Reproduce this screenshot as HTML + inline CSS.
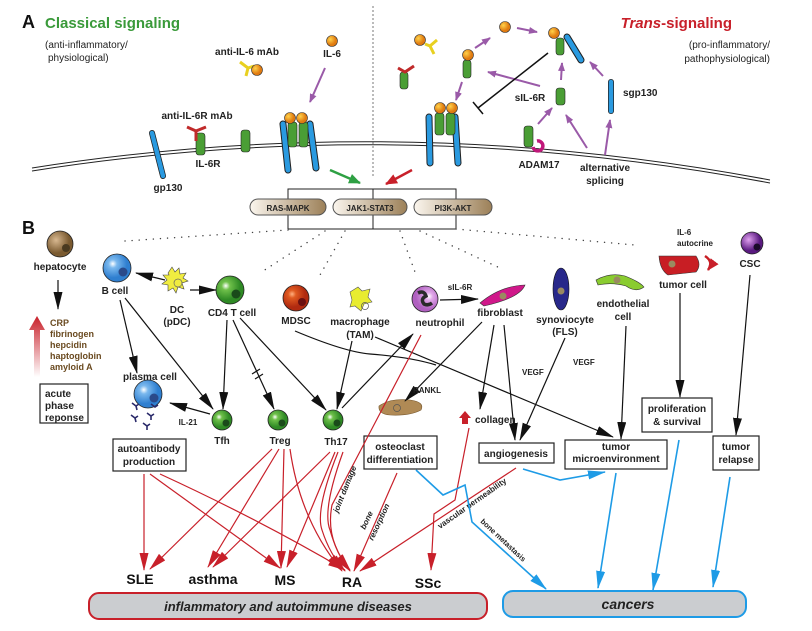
<!DOCTYPE html>
<html><head><meta charset="utf-8"><style>
html,body{margin:0;padding:0;background:#fff;}
svg{display:block;font-family:"Liberation Sans",sans-serif;}
.b{font-weight:bold;font-size:10px;fill:#222;}
.s{font-size:8px;font-weight:bold;fill:#222;}
</style></head><body>
<svg width="812" height="631" viewBox="0 0 812 631" xmlns="http://www.w3.org/2000/svg">
<defs>
<marker id="ak" markerWidth="18" markerHeight="9" refX="17" refY="4.5" orient="auto" markerUnits="userSpaceOnUse"><path d="M0,0 L18,4.5 L0,9 Z" fill="#111"/></marker>
<marker id="ar" markerWidth="18" markerHeight="9" refX="17" refY="4.5" orient="auto" markerUnits="userSpaceOnUse"><path d="M0,0 L18,4.5 L0,9 Z" fill="#c8202a"/></marker>
<marker id="ab" markerWidth="18" markerHeight="9" refX="17" refY="4.5" orient="auto" markerUnits="userSpaceOnUse"><path d="M0,0 L18,4.5 L0,9 Z" fill="#1e9be6"/></marker>
<marker id="ap" markerWidth="9" markerHeight="7" refX="8" refY="3.5" orient="auto" markerUnits="userSpaceOnUse"><path d="M0,0 L9,3.5 L0,7 Z" fill="#9a5aa8"/></marker>
<marker id="ag" markerWidth="12" markerHeight="10" refX="11" refY="5" orient="auto" markerUnits="userSpaceOnUse"><path d="M0,0 L12,5 L0,10 Z" fill="#2ea043"/></marker>
<marker id="ar2" markerWidth="12" markerHeight="10" refX="11" refY="5" orient="auto" markerUnits="userSpaceOnUse"><path d="M0,0 L12,5 L0,10 Z" fill="#c8202a"/></marker>
<radialGradient id="gO" cx="35%" cy="35%"><stop offset="0" stop-color="#ffd24a"/><stop offset="1" stop-color="#e07a10"/></radialGradient>
<radialGradient id="gB" cx="35%" cy="35%"><stop offset="0" stop-color="#fff"/><stop offset=".3" stop-color="#7ab8ee"/><stop offset="1" stop-color="#2f7fd0"/></radialGradient>
<radialGradient id="gG" cx="35%" cy="35%"><stop offset="0" stop-color="#fff"/><stop offset=".3" stop-color="#6fc04a"/><stop offset="1" stop-color="#2f8a25"/></radialGradient>
<radialGradient id="gBr" cx="35%" cy="35%"><stop offset="0" stop-color="#d8b890"/><stop offset="1" stop-color="#7a5a30"/></radialGradient>
<radialGradient id="gR" cx="35%" cy="35%"><stop offset="0" stop-color="#ffb080"/><stop offset=".3" stop-color="#e05a20"/><stop offset="1" stop-color="#b02a10"/></radialGradient>
<radialGradient id="gP" cx="35%" cy="35%"><stop offset="0" stop-color="#e0a0f0"/><stop offset="1" stop-color="#5a1a80"/></radialGradient>
<radialGradient id="gN" cx="65%" cy="40%"><stop offset="0" stop-color="#fff"/><stop offset=".3" stop-color="#e0a8e8"/><stop offset="1" stop-color="#b060c0"/></radialGradient>
<linearGradient id="gUp" x1="0" y1="1" x2="0" y2="0"><stop offset="0" stop-color="#fff"/><stop offset="1" stop-color="#c8202a"/></linearGradient>
<linearGradient id="gPill" x1="0" y1="0" x2="1" y2="0"><stop offset="0" stop-color="#fbf6ee"/><stop offset="1" stop-color="#9c8058"/></linearGradient>
</defs>

<!-- Section A -->
<text x="22" y="28" font-size="18" font-weight="bold" fill="#111">A</text>
<text x="45" y="28" font-size="15" font-weight="bold" fill="#3a9a3a">Classical signaling</text>
<text x="45" y="48" font-size="10" fill="#222">(anti-inflammatory/</text>
<text x="48" y="61" font-size="10" fill="#222">physiological)</text>
<text x="732" y="28" font-size="15" font-weight="bold" fill="#c8202a" text-anchor="end"><tspan font-style="italic">Trans</tspan>-signaling</text>
<text x="770" y="48" font-size="10" fill="#222" text-anchor="end">(pro-inflammatory/</text>
<text x="770" y="62" font-size="10" fill="#222" text-anchor="end">pathophysiological)</text>
<line x1="373" y1="6" x2="373" y2="178" stroke="#777" stroke-dasharray="2,2"/>

<path d="M32,168 Q400,110 770,180" fill="none" stroke="#222" stroke-width="1"/>
<path d="M32,171 Q400,113 770,183" fill="none" stroke="#222" stroke-width="1"/>

<line x1="152" y1="133" x2="163" y2="176" stroke="#222" stroke-width="6" stroke-linecap="round"/>
<line x1="152" y1="133" x2="163" y2="176" stroke="#2a9ae0" stroke-width="4.5" stroke-linecap="round"/>
<text x="168" y="191" class="b" text-anchor="middle">gp130</text>
<rect x="196" y="133" width="9" height="22" rx="3" fill="#4a9e35" stroke="#222" stroke-width=".6"/>
<path d="M187,127 L196,131 L206,127 M196,131 L196,141" stroke="#c02a2a" stroke-width="3" fill="none"/>
<text x="197" y="119" class="b" text-anchor="middle">anti-IL-6R mAb</text>
<text x="208" y="167" class="b" text-anchor="middle">IL-6R</text>
<rect x="241" y="130" width="9" height="22" rx="3" fill="#4a9e35" stroke="#222" stroke-width=".6"/>
<text x="247" y="55" class="b" text-anchor="middle">anti-IL-6 mAb</text>
<path d="M240,62 L248,68 L246,76 M248,68 L254,66" stroke="#e8d020" stroke-width="3" fill="none"/>
<circle cx="257" cy="70" r="5.5" fill="url(#gO)" stroke="#333" stroke-width=".6"/>
<circle cx="332" cy="41" r="5.5" fill="url(#gO)" stroke="#333" stroke-width=".6"/>
<text x="332" y="57" class="b" text-anchor="middle">IL-6</text>
<line x1="325" y1="68" x2="310" y2="102" stroke="#9a5aa8" stroke-width="2" marker-end="url(#ap)"/>
<line x1="283" y1="124" x2="288" y2="170" stroke="#222" stroke-width="7" stroke-linecap="round"/>
<line x1="283" y1="124" x2="288" y2="170" stroke="#2a9ae0" stroke-width="5" stroke-linecap="round"/>
<line x1="310" y1="124" x2="316" y2="168" stroke="#222" stroke-width="7" stroke-linecap="round"/>
<line x1="310" y1="124" x2="316" y2="168" stroke="#2a9ae0" stroke-width="5" stroke-linecap="round"/>
<rect x="288" y="122" width="9" height="25" rx="3" fill="#4a9e35" stroke="#222" stroke-width=".6"/>
<rect x="299" y="122" width="9" height="25" rx="3" fill="#4a9e35" stroke="#222" stroke-width=".6"/>
<circle cx="290" cy="118" r="5.5" fill="url(#gO)" stroke="#333" stroke-width=".6"/>
<circle cx="302" cy="118" r="5.5" fill="url(#gO)" stroke="#333" stroke-width=".6"/>
<line x1="429" y1="117" x2="430" y2="163" stroke="#222" stroke-width="7" stroke-linecap="round"/>
<line x1="429" y1="117" x2="430" y2="163" stroke="#2a9ae0" stroke-width="5" stroke-linecap="round"/>
<line x1="455" y1="117" x2="458" y2="163" stroke="#222" stroke-width="7" stroke-linecap="round"/>
<line x1="455" y1="117" x2="458" y2="163" stroke="#2a9ae0" stroke-width="5" stroke-linecap="round"/>
<rect x="435" y="113" width="9" height="22" rx="3" fill="#4a9e35" stroke="#222" stroke-width=".6"/>
<rect x="446" y="113" width="9" height="22" rx="3" fill="#4a9e35" stroke="#222" stroke-width=".6"/>
<circle cx="440" cy="108" r="5.5" fill="url(#gO)" stroke="#333" stroke-width=".6"/>
<circle cx="452" cy="108" r="5.5" fill="url(#gO)" stroke="#333" stroke-width=".6"/>
<circle cx="420" cy="40" r="5.5" fill="url(#gO)" stroke="#333" stroke-width=".6"/>
<path d="M437,40 L430,46 L434,54 M430,46 L425,44" stroke="#e8d020" stroke-width="3" fill="none"/>
<rect x="400" y="72" width="8" height="17" rx="3" fill="#4a9e35" stroke="#222" stroke-width=".6"/>
<path d="M398,68 L405,72 L414,66" stroke="#c02a2a" stroke-width="3" fill="none"/>
<circle cx="505" cy="27" r="5.5" fill="url(#gO)" stroke="#333" stroke-width=".6"/>
<rect x="463" y="60" width="8" height="18" rx="3" fill="#4a9e35" stroke="#222" stroke-width=".6"/>
<circle cx="468" cy="55" r="5.5" fill="url(#gO)" stroke="#333" stroke-width=".6"/>
<line x1="567" y1="37" x2="581" y2="60" stroke="#222" stroke-width="7" stroke-linecap="round"/>
<line x1="567" y1="37" x2="581" y2="60" stroke="#2a9ae0" stroke-width="5" stroke-linecap="round"/>
<rect x="556" y="38" width="8" height="17" rx="3" fill="#4a9e35" stroke="#222" stroke-width=".6"/>
<circle cx="554" cy="33" r="5.5" fill="url(#gO)" stroke="#333" stroke-width=".6"/>
<rect x="556" y="88" width="9" height="17" rx="3" fill="#4a9e35" stroke="#222" stroke-width=".6"/>
<text x="530" y="101" class="b" font-size="9" text-anchor="middle">sIL-6R</text>
<line x1="611" y1="82" x2="611" y2="111" stroke="#222" stroke-width="6" stroke-linecap="round"/>
<line x1="611" y1="82" x2="611" y2="111" stroke="#2a9ae0" stroke-width="4.5" stroke-linecap="round"/>
<text x="623" y="96" class="b" font-size="9">sgp130</text>
<rect x="524" y="126" width="9" height="21" rx="3" fill="#4a9e35" stroke="#222" stroke-width=".6"/>
<path d="M537,141 a5,5 0 1 1 -4,6" stroke="#c0187a" stroke-width="3.5" fill="none"/>
<text x="539" y="168" class="b" font-size="9" text-anchor="middle">ADAM17</text>
<text x="605" y="171" class="b" text-anchor="middle">alternative</text>
<text x="605" y="184" class="b" text-anchor="middle">splicing</text>
<g stroke="#9a5aa8" stroke-width="2" fill="none">
<line x1="475" y1="48" x2="490" y2="38" marker-end="url(#ap)"/>
<line x1="517" y1="28" x2="537" y2="32" marker-end="url(#ap)"/>
<line x1="462" y1="82" x2="456" y2="100" marker-end="url(#ap)"/>
<line x1="540" y1="86" x2="488" y2="72" marker-end="url(#ap)"/>
<line x1="561" y1="80" x2="562" y2="63" marker-end="url(#ap)"/>
<line x1="538" y1="124" x2="552" y2="108" marker-end="url(#ap)"/>
<line x1="587" y1="148" x2="566" y2="115" marker-end="url(#ap)"/>
<line x1="605" y1="155" x2="610" y2="120" marker-end="url(#ap)"/>
<line x1="603" y1="76" x2="590" y2="62" marker-end="url(#ap)"/>
</g>
<line x1="548" y1="53" x2="478" y2="108" stroke="#111" stroke-width="1.5"/>
<line x1="473" y1="102" x2="483" y2="114" stroke="#111" stroke-width="1.5"/>
<line x1="330" y1="170" x2="360" y2="183" stroke="#2ea043" stroke-width="2.5" marker-end="url(#ag)"/>
<line x1="412" y1="170" x2="386" y2="184" stroke="#c8202a" stroke-width="2.5" marker-end="url(#ar2)"/>

<path d="M288,229 L288,189 L456,189 L456,229 M373,189 L373,229 M288,229 L456,229" stroke="#222" fill="none" stroke-width="1"/>
<g stroke="#555" stroke-width="1">
<rect x="250" y="199" width="76" height="16" rx="8" fill="url(#gPill)"/>
<rect x="333" y="199" width="74" height="16" rx="8" fill="url(#gPill)"/>
<rect x="414" y="199" width="78" height="16" rx="8" fill="url(#gPill)"/>
</g>
<text x="288" y="211" class="s" text-anchor="middle">RAS-MAPK</text>
<text x="370" y="211" class="s" text-anchor="middle">JAK1-STAT3</text>
<text x="453" y="211" class="s" text-anchor="middle">PI3K-AKT</text>

<!-- Section B -->
<text x="22" y="234" font-size="18" font-weight="bold" fill="#111">B</text>
<g stroke="#444" stroke-width="1.4" stroke-dasharray="0.1,7" stroke-linecap="round" fill="none">
<line x1="288" y1="230" x2="125" y2="241"/>
<line x1="325" y1="231" x2="260" y2="273"/>
<line x1="345" y1="231" x2="320" y2="275"/>
<line x1="400" y1="231" x2="415" y2="272"/>
<line x1="420" y1="231" x2="500" y2="268"/>
<line x1="456" y1="229" x2="635" y2="245"/>
</g>

<circle cx="60" cy="244" r="13" fill="url(#gBr)" stroke="#222" stroke-width=".8"/><circle cx="66" cy="248" r="4" fill="#4a3a20"/>
<text x="60" y="270" class="b" text-anchor="middle">hepatocyte</text>
<line x1="58" y1="280" x2="58" y2="309" stroke="#111" stroke-width="1.2" marker-end="url(#ak)"/>
<path d="M34,377 L34,330 L29,330 L37,316 L45,330 L40,330 L40,377 Z" fill="url(#gUp)"/>
<g font-size="9" font-weight="bold" fill="#6a4a20">
<text x="50" y="326">CRP</text><text x="50" y="337">fibrinogen</text><text x="50" y="348">hepcidin</text><text x="50" y="359">haptoglobin</text><text x="50" y="370">amyloid A</text></g>
<rect x="40" y="384" width="48" height="39" fill="#fff" stroke="#222" stroke-width="1.2"/>
<text x="45" y="397" class="b">acute</text><text x="45" y="409" class="b">phase</text><text x="45" y="421" class="b">reponse</text>

<circle cx="117" cy="268" r="14" fill="url(#gB)" stroke="#222" stroke-width=".8"/><circle cx="123" cy="272" r="4.5" fill="#2a4a8a"/>
<text x="115" y="294" class="b" text-anchor="middle">B cell</text>
<path d="M168,273 l4,-6 l3,5 l4,-4 l1,6 l6,-1 l-3,5 l5,3 l-6,2 l2,6 l-6,-2 l-2,6 l-3,-5 l-5,3 l0,-6 l-6,-1 l5,-4 l-4,-5 l6,0 Z" fill="#f0ec40" stroke="#444" stroke-width=".6"/>
<circle cx="178" cy="283" r="4" fill="none" stroke="#666" stroke-width=".7"/>
<text x="177" y="313" class="b" text-anchor="middle">DC</text><text x="177" y="325" class="b" text-anchor="middle">(pDC)</text>
<circle cx="230" cy="290" r="14" fill="url(#gG)" stroke="#222" stroke-width=".8"/><circle cx="236" cy="294" r="4.5" fill="#1a4a1a"/>
<text x="232" y="316" class="b" text-anchor="middle">CD4 T cell</text>
<circle cx="296" cy="298" r="13" fill="url(#gR)" stroke="#222" stroke-width=".8"/><circle cx="302" cy="302" r="4" fill="#6a1010"/>
<text x="296" y="324" class="b" text-anchor="middle">MDSC</text>
<path d="M350,292 l8,-5 l4,4 l8,-2 l-2,8 l4,5 l-8,2 l-3,7 l-6,-5 l-5,1 l2,-7 Z" fill="#e8ec30" stroke="#555" stroke-width=".6"/>
<circle cx="365" cy="306" r="3.5" fill="none" stroke="#555" stroke-width=".7"/>
<text x="360" y="325" class="b" text-anchor="middle">macrophage</text><text x="360" y="338" class="b" text-anchor="middle">(TAM)</text>
<circle cx="425" cy="299" r="13" fill="url(#gN)" stroke="#222" stroke-width=".8"/>
<path d="M418,293 q6,-3 8,3 q-6,3 -2,8 q4,2 8,-1" stroke="#2a2a2a" stroke-width="3.5" fill="none"/>
<text x="440" y="326" class="b" text-anchor="middle">neutrophil</text>
<text x="460" y="290" class="s" font-size="8.5" text-anchor="middle">sIL-6R</text>
<line x1="440" y1="300" x2="478" y2="299" stroke="#111" stroke-width="1.2" marker-end="url(#ak)"/>
<path d="M480,303 Q500,286 525,285 Q520,298 484,306 Z" fill="#d0188a" stroke="#333" stroke-width=".6"/>
<circle cx="503" cy="296" r="3.5" fill="#9a8a60"/>
<text x="500" y="316" class="b" text-anchor="middle">fibroblast</text>
<ellipse cx="561" cy="289" rx="8" ry="21" fill="#28288a" stroke="#111" stroke-width=".6"/><circle cx="561" cy="291" r="3.5" fill="#9a8a60"/>
<text x="565" y="323" class="b" text-anchor="middle">synoviocyte</text><text x="565" y="335" class="b" text-anchor="middle">(FLS)</text>
<path d="M596,280 Q610,272 625,276 Q640,282 644,287 Q636,293 626,286 Q612,282 598,285 Z" fill="#8acc30" stroke="#333" stroke-width=".6"/>
<circle cx="617" cy="280" r="3.5" fill="#9a8a60"/>
<text x="623" y="307" class="b" text-anchor="middle">endothelial</text><text x="623" y="320" class="b" text-anchor="middle">cell</text>
<path d="M659,256 L696,256 Q702,265 696,272 L668,275 Q660,270 659,256 Z" fill="#c81e24" stroke="#333" stroke-width=".6"/>
<circle cx="672" cy="264" r="3.5" fill="#9a8a60"/>
<path d="M705,256 Q714,262 708,270" stroke="#c81e24" stroke-width="2.5" fill="none" marker-end="url(#ar2)"/>
<text x="677" y="235" class="s" font-size="8.5">IL-6</text><text x="677" y="246" class="s" font-size="8.5">autocrine</text>
<text x="683" y="288" class="b" text-anchor="middle">tumor cell</text>
<circle cx="752" cy="243" r="11" fill="url(#gP)" stroke="#222" stroke-width=".8"/><circle cx="757" cy="247" r="3.5" fill="#1a0a2a"/>
<text x="750" y="267" class="b" text-anchor="middle">CSC</text>

<text x="150" y="380" class="b" text-anchor="middle">plasma cell</text>
<circle cx="148" cy="394" r="14" fill="url(#gB)" stroke="#222" stroke-width=".8"/><circle cx="154" cy="398" r="4.5" fill="#2a4a8a"/>
<g stroke="#2a2a6a" stroke-width="1.6" fill="none">
<path d="M132,403 l4,3 l3,-2 M136,406 l1,4"/><path d="M147,413 l4,3 l3,-2 M151,416 l0,4"/><path d="M131,415 l4,3 l3,-2 M135,418 l1,4"/><path d="M143,423 l4,3 l3,-2 M147,426 l0,4"/><path d="M151,404 l4,3 l3,-2"/></g>
<circle cx="222" cy="420" r="10" fill="url(#gG)" stroke="#222" stroke-width=".8"/><circle cx="226" cy="423" r="3.5" fill="#1a4a1a"/>
<circle cx="278" cy="420" r="10" fill="url(#gG)" stroke="#222" stroke-width=".8"/><circle cx="282" cy="423" r="3.5" fill="#1a4a1a"/>
<circle cx="333" cy="420" r="10" fill="url(#gG)" stroke="#222" stroke-width=".8"/><circle cx="337" cy="423" r="3.5" fill="#1a4a1a"/>
<text x="222" y="444" class="b" text-anchor="middle">Tfh</text>
<text x="280" y="444" class="b" text-anchor="middle">Treg</text>
<text x="336" y="445" class="b" text-anchor="middle">Th17</text>
<text x="188" y="425" class="s" text-anchor="middle">IL-21</text>
<path d="M379,406 Q390,398 410,400 Q425,402 421,410 Q410,416 390,415 Q378,414 379,406 Z" fill="#b08a55" stroke="#7a5a30" stroke-width=".6"/>
<circle cx="397" cy="408" r="3.5" fill="none" stroke="#555" stroke-width=".7"/>
<path d="M462,424 L462,418 L459,418 L465,411 L471,418 L468,418 L468,424 Z" fill="#c8202a"/>
<text x="475" y="423" class="b">collagen</text>

<g fill="#fff" stroke="#222" stroke-width="1.2">
<rect x="113" y="439" width="73" height="32"/>
<rect x="364" y="436" width="73" height="33"/>
<rect x="479" y="443" width="75" height="20"/>
<rect x="565" y="440" width="102" height="29"/>
<rect x="642" y="398" width="70" height="34"/>
<rect x="713" y="436" width="46" height="34"/>
</g>
<text x="149" y="452" class="b" text-anchor="middle">autoantibody</text><text x="149" y="465" class="b" text-anchor="middle">production</text>
<text x="400" y="450" class="b" text-anchor="middle">osteoclast</text><text x="400" y="463" class="b" text-anchor="middle">differentiation</text>
<text x="516" y="457" class="b" text-anchor="middle">angiogenesis</text>
<text x="616" y="450" class="b" text-anchor="middle">tumor</text><text x="616" y="462" class="b" text-anchor="middle">microenvironment</text>
<text x="677" y="412" class="b" text-anchor="middle">proliferation</text><text x="677" y="425" class="b" text-anchor="middle">&amp; survival</text>
<text x="736" y="450" class="b" text-anchor="middle">tumor</text><text x="736" y="463" class="b" text-anchor="middle">relapse</text>

<g stroke="#111" stroke-width="1.2" fill="none">
<line x1="165" y1="280" x2="136" y2="273" marker-end="url(#ak)"/>
<line x1="190" y1="290" x2="216" y2="290" marker-end="url(#ak)"/>
<line x1="120" y1="300" x2="137" y2="373" marker-end="url(#ak)"/>
<line x1="125" y1="298" x2="213" y2="409" marker-end="url(#ak)"/>
<line x1="227" y1="320" x2="223" y2="409" marker-end="url(#ak)"/>
<line x1="233" y1="320" x2="274" y2="409" marker-end="url(#ak)"/>
<line x1="252" y1="374" x2="260" y2="369"/><line x1="255" y1="379" x2="263" y2="374"/>
<line x1="240" y1="318" x2="326" y2="410" marker-end="url(#ak)"/>
<line x1="352" y1="341" x2="337" y2="409" marker-end="url(#ak)"/>
<line x1="342" y1="408" x2="413" y2="334" marker-end="url(#ak)"/>
<line x1="210" y1="414" x2="170" y2="403" marker-end="url(#ak)"/>
<line x1="482" y1="322" x2="405" y2="401" marker-end="url(#ak)"/>
<line x1="494" y1="325" x2="480" y2="409" marker-end="url(#ak)"/>
<line x1="504" y1="325" x2="515" y2="440" marker-end="url(#ak)"/>
<line x1="565" y1="338" x2="520" y2="440" marker-end="url(#ak)"/>
<line x1="626" y1="326" x2="621" y2="439" marker-end="url(#ak)"/>
<line x1="680" y1="293" x2="680" y2="397" marker-end="url(#ak)"/>
<line x1="750" y1="275" x2="736" y2="435" marker-end="url(#ak)"/>
<line x1="375" y1="337" x2="613" y2="437" marker-end="url(#ak)"/>
<path d="M295,331 Q345,352 370,354 Q410,357 436,365"/>
</g>
<text x="427" y="393" class="s" text-anchor="middle">RANKL</text>
<text x="522" y="375" class="s">VEGF</text>
<text x="573" y="365" class="s">VEGF</text>

<g stroke="#c8202a" stroke-width="1.2" fill="none">
<line x1="144" y1="474" x2="144" y2="570" marker-end="url(#ar)"/>
<line x1="150" y1="474" x2="280" y2="568" marker-end="url(#ar)"/>
<path d="M160,474 Q260,520 345,570" marker-end="url(#ar)"/>
<line x1="272" y1="449" x2="150" y2="569" marker-end="url(#ar)"/>
<line x1="279" y1="449" x2="208" y2="567" marker-end="url(#ar)"/>
<line x1="284" y1="449" x2="281" y2="568" marker-end="url(#ar)"/>
<path d="M290,449 Q300,520 342,571" marker-end="url(#ar)"/>
<line x1="330" y1="452" x2="213" y2="567" marker-end="url(#ar)"/>
<line x1="335" y1="452" x2="287" y2="567" marker-end="url(#ar)"/>
<path d="M338,452 Q315,510 322,530 Q330,555 345,571" marker-end="url(#ar)"/>
<path d="M343,452 Q322,510 330,530 Q337,555 350,571" marker-end="url(#ar)"/>
<path d="M421,335 L332,505 Q325,540 350,570" marker-end="url(#ar)"/>
<line x1="397" y1="473" x2="354" y2="571" marker-end="url(#ar)"/>
<line x1="516" y1="468" x2="360" y2="571" marker-end="url(#ar)"/>
<path d="M469,428 L455,500 L434,514 L431,570" marker-end="url(#ar)"/>
</g>
<text transform="translate(338,513) rotate(-68)" font-size="8" font-style="italic" font-weight="bold" fill="#222">joint damage</text>
<text transform="translate(365,530) rotate(-65)" font-size="8" font-style="italic" font-weight="bold" fill="#222">bone</text>
<text transform="translate(373,541) rotate(-65)" font-size="8" font-style="italic" font-weight="bold" fill="#222">resorption</text>
<text transform="translate(440,529) rotate(-35)" font-size="8" font-weight="bold" fill="#222">vascular permeability</text>

<g stroke="#1e9be6" stroke-width="1.6" fill="none">
<path d="M416,470 L443,495 L465,485 L472,522 L546,589" marker-end="url(#ab)"/>
<path d="M523,469 L560,480 L605,472" marker-end="url(#ab)"/>
<line x1="616" y1="473" x2="598" y2="588" marker-end="url(#ab)"/>
<line x1="679" y1="440" x2="653" y2="590" marker-end="url(#ab)"/>
<line x1="730" y1="477" x2="713" y2="587" marker-end="url(#ab)"/>
</g>
<text transform="translate(480,522) rotate(43)" font-size="7.5" font-weight="bold" fill="#222">bone metastasis</text>

<g font-size="14" font-weight="bold" fill="#111" text-anchor="middle">
<text x="140" y="584">SLE</text><text x="213" y="584">asthma</text><text x="285" y="585">MS</text><text x="352" y="587">RA</text><text x="428" y="588">SSc</text></g>
<rect x="89" y="593" width="398" height="26" rx="10" fill="#cbcdd0" stroke="#c8202a" stroke-width="2"/>
<text x="288" y="611" font-size="13" font-weight="bold" font-style="italic" fill="#222" text-anchor="middle">inflammatory and autoimmune diseases</text>
<rect x="503" y="591" width="243" height="26" rx="10" fill="#cbcdd0" stroke="#1e9be6" stroke-width="2"/>
<text x="628" y="609" font-size="14" font-weight="bold" font-style="italic" fill="#222" text-anchor="middle">cancers</text>
</svg>
</body></html>
